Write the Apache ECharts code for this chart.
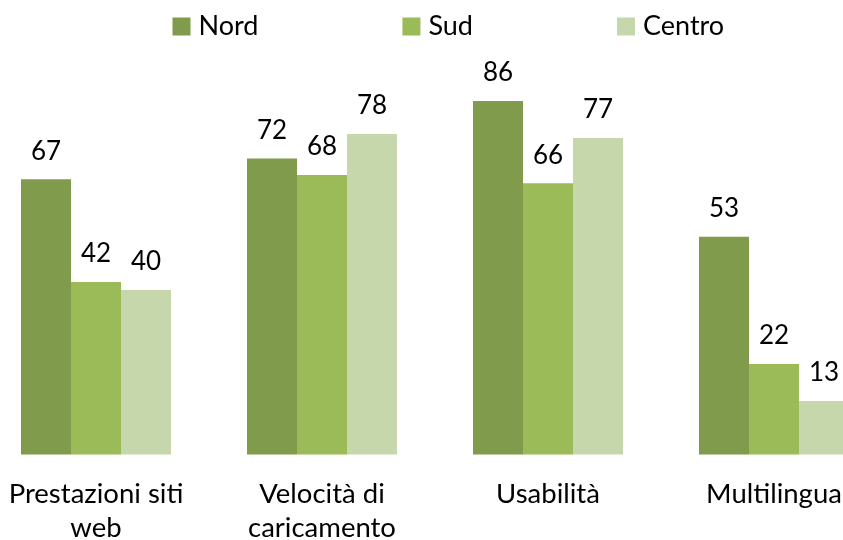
<!DOCTYPE html>
<html style="height: 100%">
<head>
    <meta charset="utf-8">
    <script src="https://cdn.jsdelivr.net/npm/echarts@6/dist/echarts.min.js"></script>
</head>
<body style="height: 100%; margin: 0; background: #fff; overflow: hidden;">
<!-- il grafico originale esce un po' dai bordi: contenitore più largo e spostato -->
<div id="container" style="position: absolute; left: -17.5px; top: 0; width: 904px; height: 540px;"></div>
<script type="text/javascript">
// categorie e valori
var categories = ['Prestazioni siti\nweb', 'Velocità di\ncaricamento', 'Usabilità', 'Multilingua'];
var seriesNames = ['Nord', 'Sud', 'Centro'];
var nord = [67, 72, 86, 53];
var sud = [42, 68, 66, 22];
var centro = [40, 78, 77, 13];

var colors = ['#7f9b4b', '#9bbb59', '#c6d7ac'];
var font = 'Lato';

var chart = echarts.init(document.getElementById('container'));

function makeSeries(name, values, color) {
    return {
        name: name,
        type: 'bar',
        barWidth: 50,
        barGap: 0,
        itemStyle: { color: color },
        label: {
            show: true,
            position: 'top',
            distance: 15,
            color: '#000',
            fontFamily: font,
            fontSize: 26
        },
        data: values
    };
}

var option = {
    animation: false,
    color: colors,
    legend: {
        left: 167 + 17.5,
        top: 8,
        itemWidth: 18,
        itemHeight: 18,
        itemGap: 144,
        icon: 'rect',
        textStyle: {
            color: '#000',
            fontFamily: font,
            fontSize: 27,
            padding: [0, 0, 0, 3]
        },
        data: seriesNames
    },
    grid: {
        left: 0,
        right: 0,
        top: 43.5,
        bottom: 85.5,
        containLabel: false,
        outerBoundsMode: 'none'
    },
    xAxis: {
        type: 'category',
        data: categories,
        axisLine: { show: false },
        axisTick: { show: false },
        axisLabel: {
            interval: 0,
            margin: 23,
            color: '#000',
            fontFamily: font,
            fontSize: 27.5,
            lineHeight: 34
        }
    },
    yAxis: {
        type: 'value',
        min: 0,
        max: 100,
        show: false,
        splitLine: { show: false }
    },
    series: [
        makeSeries(seriesNames[0], nord, colors[0]),
        makeSeries(seriesNames[1], sud, colors[1]),
        makeSeries(seriesNames[2], centro, colors[2])
    ]
};

chart.setOption(option);
</script>
</body>
</html>
